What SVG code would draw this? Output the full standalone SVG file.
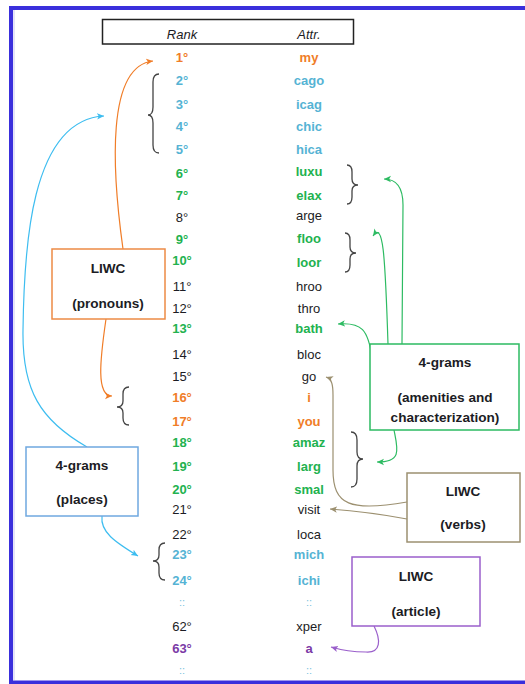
<svg xmlns="http://www.w3.org/2000/svg" width="525" height="684" viewBox="0 0 525 684">
<defs>
<style>
text{font-family:"Liberation Sans",Arial,sans-serif;font-size:13px;text-anchor:middle}
.or{fill:#F07D28;font-weight:bold}
.bl{fill:#55B3D4;font-weight:bold}
.gr{fill:#22B24F;font-weight:bold}
.bk{fill:#1c1c24}
.pu{fill:#7B3AA6;font-weight:bold}
.dots{fill:#7CC3DE;font-size:11px}
.lbl{fill:#1c1c24;font-weight:bold;font-size:13.6px}
.hdr{fill:#1c1c24;font-style:italic}
.box{fill:#fff;stroke-width:1.5}
.brace{fill:none;stroke:#444;stroke-width:1.3}
.c{fill:none;stroke-width:1.2}
</style>
<marker id="aO" viewBox="0 0 8 8" refX="7" refY="4" markerWidth="8" markerHeight="8" markerUnits="userSpaceOnUse" orient="auto"><path d="M0,0.8 L7,4 L0,7.2 L1.8,4 z" fill="#F07D28"/></marker>
<marker id="aB" viewBox="0 0 8 8" refX="7" refY="4" markerWidth="8" markerHeight="8" markerUnits="userSpaceOnUse" orient="auto"><path d="M0,0.8 L7,4 L0,7.2 L1.8,4 z" fill="#3DBDF0"/></marker>
<marker id="aG" viewBox="0 0 8 8" refX="7" refY="4" markerWidth="8" markerHeight="8" markerUnits="userSpaceOnUse" orient="auto"><path d="M0,0.8 L7,4 L0,7.2 L1.8,4 z" fill="#2DBB62"/></marker>
<marker id="aT" viewBox="0 0 8 8" refX="7" refY="4" markerWidth="8" markerHeight="8" markerUnits="userSpaceOnUse" orient="auto"><path d="M0,0.8 L7,4 L0,7.2 L1.8,4 z" fill="#9C9070"/></marker>
<marker id="aP" viewBox="0 0 8 8" refX="7" refY="4" markerWidth="8" markerHeight="8" markerUnits="userSpaceOnUse" orient="auto"><path d="M0,0.8 L7,4 L0,7.2 L1.8,4 z" fill="#9A5FCB"/></marker>
</defs>
<rect x="0" y="0" width="525" height="684" fill="#fff"/>
<rect x="11" y="8" width="520" height="674.5" fill="#fff" stroke="#3A2FDC" stroke-width="4"/>
<line x1="14" y1="10" x2="14" y2="680" stroke="#C8C8F2" stroke-width="1"/>

<g id="header">
<rect x="102.5" y="19.5" width="251" height="24.5" fill="#fff" stroke="#222" stroke-width="1.5"/>
<text class="hdr" x="182" y="39">Rank</text>
<text class="hdr" x="309" y="39">Attr.</text>
</g>

<g id="table">
<text class="or" x="182" y="61.5">1°</text><text class="or" x="309" y="61.5">my</text>
<text class="bl" x="182" y="84.5">2°</text><text class="bl" x="309" y="84.5">cago</text>
<text class="bl" x="182" y="108.5">3°</text><text class="bl" x="309" y="108.5">icag</text>
<text class="bl" x="182" y="130.5">4°</text><text class="bl" x="309" y="130.5">chic</text>
<text class="bl" x="182" y="153.5">5°</text><text class="bl" x="309" y="153.5">hica</text>
<text class="gr" x="182" y="177.5">6°</text><text class="gr" x="309" y="175.5">luxu</text>
<text class="gr" x="182" y="199.5">7°</text><text class="gr" x="309" y="199.5">elax</text>
<text class="bk" x="182" y="221.5">8°</text><text class="bk" x="309" y="219.5">arge</text>
<text class="gr" x="182" y="243.5">9°</text><text class="gr" x="309" y="243">floo</text>
<text class="gr" x="182" y="264.5">10°</text><text class="gr" x="309" y="267">loor</text>
<text class="bk" x="182" y="290.5">11°</text><text class="bk" x="309" y="290.5">hroo</text>
<text class="bk" x="182" y="312.5">12°</text><text class="bk" x="309" y="312.5">thro</text>
<text class="gr" x="182" y="332.5">13°</text><text class="gr" x="309" y="332.5">bath</text>
<text class="bk" x="182" y="358.5">14°</text><text class="bk" x="309" y="358.5">bloc</text>
<text class="bk" x="182" y="380.5">15°</text><text class="bk" x="309" y="380.5">go</text>
<text class="or" x="182" y="401.5">16°</text><text class="or" x="309" y="401.5">i</text>
<text class="or" x="182" y="425.5">17°</text><text class="or" x="309" y="425.5">you</text>
<text class="gr" x="182" y="446.5">18°</text><text class="gr" x="309" y="446.5">amaz</text>
<text class="gr" x="182" y="470.5">19°</text><text class="gr" x="309" y="470.5">larg</text>
<text class="gr" x="182" y="493.5">20°</text><text class="gr" x="309" y="493.5">smal</text>
<text class="bk" x="182" y="513.5">21°</text><text class="bk" x="309" y="513.5">visit</text>
<text class="bk" x="182" y="538.5">22°</text><text class="bk" x="309" y="538.5">loca</text>
<text class="bl" x="182" y="558.5">23°</text><text class="bl" x="309" y="558.5">mich</text>
<text class="bl" x="182" y="584.5">24°</text><text class="bl" x="309" y="584.5">ichi</text>
<text class="dots" x="182" y="606">::</text><text class="dots" x="309" y="606">::</text>
<text class="bk" x="182" y="630.5">62°</text><text class="bk" x="309" y="630.5">xper</text>
<text class="pu" x="182" y="652.5">63°</text><text class="pu" x="309" y="652.5">a</text>
<text class="dots" x="182" y="674">::</text><text class="dots" x="309" y="674">::</text>
</g>

<g id="braces">
<path class="brace" d="M159,74 Q153,74 153,82 L153,107 Q153,115 148,115 Q153,115 153,123 L153,145 Q153,153 159,153"/>
<path class="brace" d="M347,165 Q352,165 352,172 L352,179 Q352,185 358,185 Q352,185 352,191 L352,197 Q352,204 347,204"/>
<path class="brace" d="M345,233 Q350,233 350,240 L350,247 Q350,253 356,253 Q350,253 350,259 L350,265 Q350,272 345,272"/>
<path class="brace" d="M129,387 Q123,387 123,394 L123,401 Q123,407 117,407 Q123,407 123,413 L123,418 Q123,425 129,425"/>
<path class="brace" d="M351,432 Q357,432 357,440 L357,452 Q357,459 363,459 Q357,459 357,466 L357,479 Q357,487 351,487"/>
<path class="brace" d="M165,543 Q159,543 159,550 L159,555 Q159,561 153,561 Q159,561 159,567 L159,573 Q159,580 165,580"/>
</g>

<g id="connectors">
<path class="c" stroke="#F07D28" marker-end="url(#aO)" d="M123,249 C 112,170 106,66 153,61"/>
<path class="c" stroke="#F07D28" marker-end="url(#aO)" d="M106,319 C 100,360 96,396 112,396"/>
<path class="c" stroke="#3DBDF0" marker-end="url(#aB)" d="M87,447 C 40,420 22,390 23,330 C 24,250 30,120 104,116"/>
<path class="c" stroke="#3DBDF0" marker-end="url(#aB)" d="M102,516 C 100,532 115,542 138,556"/>
<path class="c" stroke="#2DBB62" marker-end="url(#aG)" d="M402,344 L403,205 C 403,186 396,179 384,179"/>
<path class="c" stroke="#2DBB62" marker-end="url(#aG)" d="M388,344 C 385,250 383,222 373,236"/>
<path class="c" stroke="#2DBB62" marker-end="url(#aG)" d="M372,357 C 368,330 362,322 338,324"/>
<path class="c" stroke="#2DBB62" marker-end="url(#aG)" d="M394,430 C 398,450 402,462 377,462"/>
<path class="c" stroke="#9C9070" marker-end="url(#aT)" d="M407,502 C 350,512 333,505 333,470 L333,395 C 333,385 332,379 326,377"/>
<path class="c" stroke="#9C9070" marker-end="url(#aT)" d="M407,519 Q 370,512 330,509"/>
<path class="c" stroke="#9A5FCB" marker-end="url(#aP)" d="M374,626 C 381,640 381,653 366,652 C 352,652 341,650 331,647"/>
</g>

<g id="pronouns">
<rect class="box" x="52" y="249" width="113" height="70" stroke="#ED8B45"/>
<text class="lbl" x="108" y="273">LIWC</text>
<text class="lbl" x="108" y="307.5">(pronouns)</text>
</g>
<g id="places">
<rect class="box" x="26" y="447" width="112" height="69" stroke="#6FA8E0"/>
<text class="lbl" x="82" y="469.5">4-grams</text>
<text class="lbl" x="82" y="503.5">(places)</text>
</g>
<g id="amenities">
<rect class="box" x="370" y="344" width="149" height="86" stroke="#2DBB62"/>
<text class="lbl" x="445" y="366.5">4-grams</text>
<text class="lbl" x="445" y="401.5">(amenities and</text>
<text class="lbl" x="445" y="421.5">characterization)</text>
</g>
<g id="verbs">
<rect class="box" x="407" y="473" width="113" height="69" stroke="#9C9070"/>
<text class="lbl" x="463" y="495.5">LIWC</text>
<text class="lbl" x="463" y="528.5">(verbs)</text>
</g>
<g id="article">
<rect class="box" x="352" y="557" width="128" height="69" stroke="#9A5FCB"/>
<text class="lbl" x="416" y="580.5">LIWC</text>
<text class="lbl" x="416" y="615.5">(article)</text>
</g>
</svg>
